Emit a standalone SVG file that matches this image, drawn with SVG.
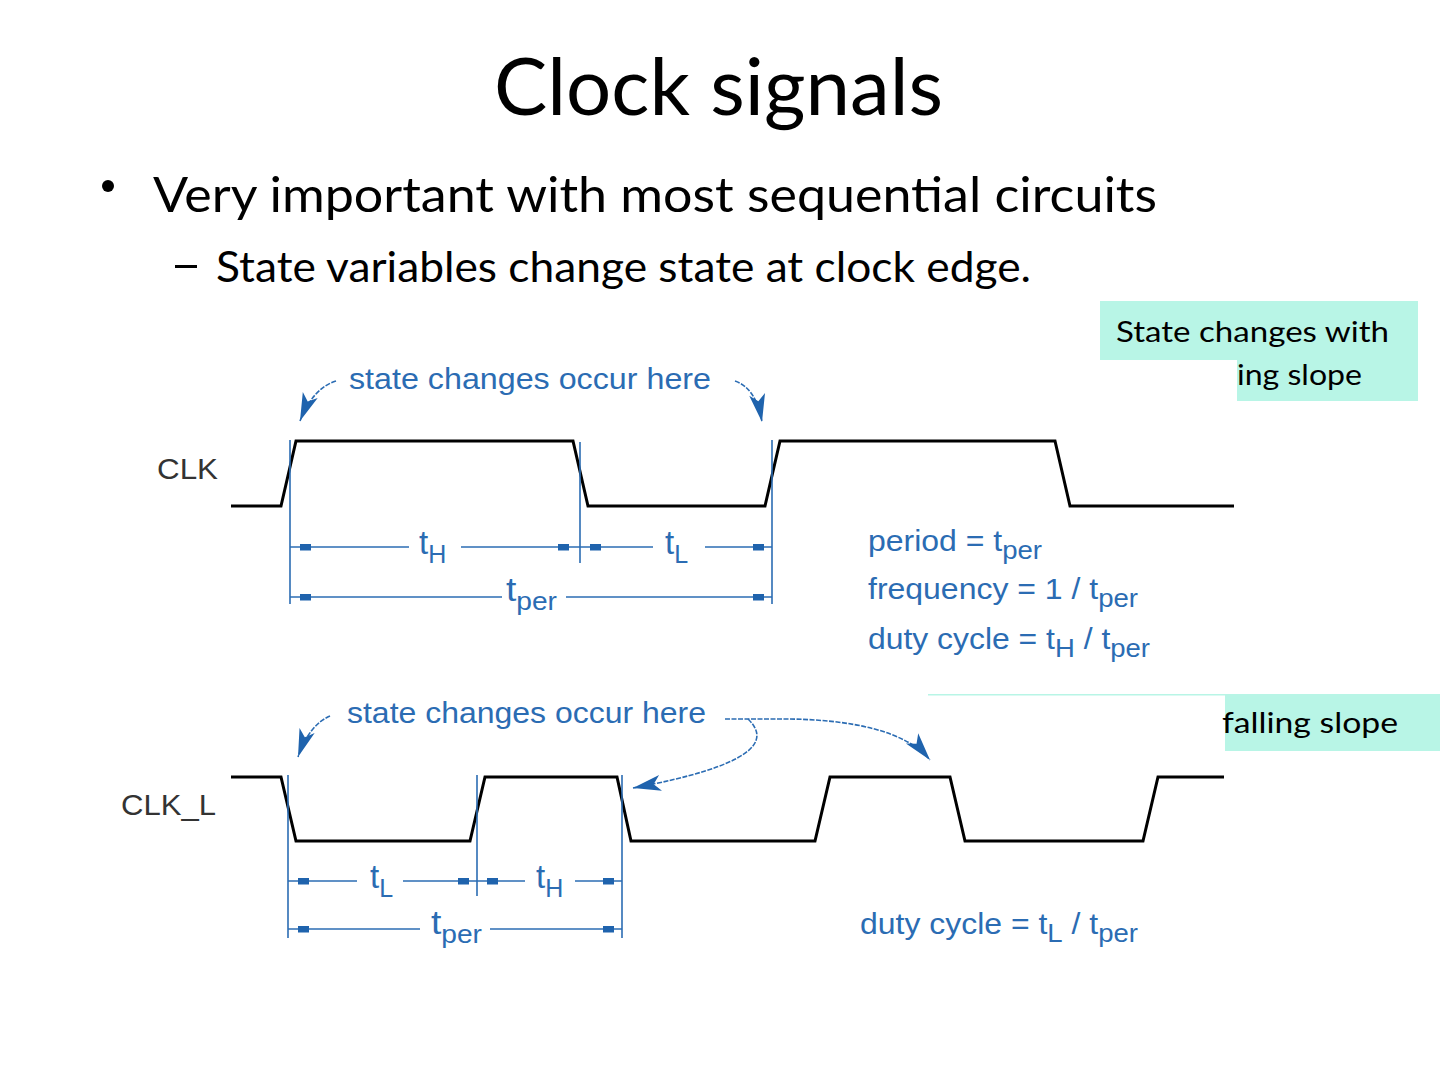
<svg xmlns="http://www.w3.org/2000/svg" width="1440" height="1080" viewBox="0 0 1440 1080">
<style>
.slide{font-family:Lato,"Open Sans","Liberation Sans",sans-serif;fill:#000}
.note{font-family:Lato,"Open Sans","Liberation Sans",sans-serif;fill:#000;font-size:29px}
.lbl{font-family:"Liberation Sans",Arial,sans-serif;fill:#333;font-size:30px}
.blue{font-family:"Liberation Sans",Arial,sans-serif;fill:#2b6cb3;font-size:29px}
.big{font-size:33px}
.sub{font-size:25px}
.wave{fill:none;stroke:#000;stroke-width:3;stroke-linejoin:miter}
.ext{stroke:#2b6cb3;stroke-width:1.6}
.dim{stroke:#2b6cb3;stroke-width:1.6}
.tick{fill:#1f63ad}
.curve{fill:none;stroke:#2b6cb3;stroke-width:1.6;stroke-dasharray:5 1.5}
</style>
<defs>
<marker id="ah" markerUnits="userSpaceOnUse" viewBox="-30 -9 32 18" refX="0" refY="0" markerWidth="32" markerHeight="18" orient="auto">
<path d="M0,0 L-28,-8 L-21,0 L-28,8 Z" fill="#1f63ad"/>
</marker>
</defs>
<rect width="1440" height="1080" fill="#fff"/>

<g id="title"><text class="slide" x="494" y="115" font-size="80" textLength="449" lengthAdjust="spacingAndGlyphs">Clock signals</text></g>
<g id="bullet1">
<circle cx="108" cy="186" r="6" fill="#000"/>
<text class="slide" x="153" y="212" font-size="48" textLength="1004" lengthAdjust="spacingAndGlyphs">Very important with most sequential circuits</text>
</g>
<g id="bullet2">
<rect x="175" y="265" width="22" height="3" fill="#000"/>
<text class="slide" x="216" y="282" font-size="42" textLength="815" lengthAdjust="spacingAndGlyphs">State variables change state at clock edge.</text>
</g>

<g id="note1">
<path d="M1100,301 H1418 V401 H1237 V360 H1100 Z" fill="#b8f5e6"/>
<text class="note" x="1116" y="342" textLength="273" lengthAdjust="spacingAndGlyphs">State changes with</text>
<text class="note" x="1237" y="385" textLength="125" lengthAdjust="spacingAndGlyphs">ing slope</text>
</g>
<g id="note2">
<path d="M928,694 H1440 V751 H1225 V695.5 H928 Z" fill="#b8f5e6"/>
<text class="note" x="1222" y="733" textLength="176" lengthAdjust="spacingAndGlyphs">falling slope</text>
</g>

<g id="clk">
<text class="lbl" x="157" y="479" textLength="61" lengthAdjust="spacingAndGlyphs">CLK</text>
<path class="wave" d="M231,506 H281 L296,441 H573 L588,506 H765 L780,441 H1055 L1070,506 H1234"/>
</g>
<g id="clk-dims">
<line class="ext" x1="290" y1="440" x2="290" y2="604"/>
<line class="ext" x1="580" y1="442" x2="580" y2="563"/>
<line class="ext" x1="772" y1="440" x2="772" y2="604"/>
<line class="dim" x1="290" y1="547" x2="409" y2="547"/>
<line class="dim" x1="461" y1="547" x2="580" y2="547"/>
<line class="dim" x1="580" y1="547" x2="653" y2="547"/>
<line class="dim" x1="705" y1="547" x2="772" y2="547"/>
<line class="dim" x1="290" y1="597" x2="502" y2="597"/>
<line class="dim" x1="566" y1="597" x2="772" y2="597"/>
<rect class="tick" x="300" y="544" width="11" height="6.5"/>
<rect class="tick" x="558" y="544" width="11" height="6.5"/>
<rect class="tick" x="590" y="544" width="11" height="6.5"/>
<rect class="tick" x="753" y="544" width="11" height="6.5"/>
<rect class="tick" x="300" y="594" width="11" height="6.5"/>
<rect class="tick" x="753" y="594" width="11" height="6.5"/>
<text class="blue big" x="419" y="554">t<tspan class="sub" dy="9">H</tspan></text>
<text class="blue big" x="665" y="554">t<tspan class="sub" dy="9">L</tspan></text>
<text class="blue big" x="506" y="601" textLength="51" lengthAdjust="spacingAndGlyphs">t<tspan class="sub" dy="9">per</tspan></text>
</g>
<g id="formulas">
<text class="blue" x="868" y="551" textLength="174" lengthAdjust="spacingAndGlyphs">period = t<tspan class="sub" dy="8">per</tspan></text>
<text class="blue" x="868" y="599" textLength="270" lengthAdjust="spacingAndGlyphs">frequency = 1 / t<tspan class="sub" dy="8">per</tspan></text>
<text class="blue" x="868" y="649" textLength="282" lengthAdjust="spacingAndGlyphs">duty cycle = t<tspan class="sub" dy="8">H</tspan><tspan dy="-8"> / t</tspan><tspan class="sub" dy="8">per</tspan></text>
</g>
<g id="note-top">
<text class="blue" x="349" y="389" textLength="362" lengthAdjust="spacingAndGlyphs">state changes occur here</text>
</g>

<g id="clkl">
<text class="lbl" x="121" y="815" textLength="95" lengthAdjust="spacingAndGlyphs">CLK_L</text>
<path class="wave" d="M231,777 H281 L296,841 H470 L485,777 H617 L631,841 H815 L830,777 H950 L965,841 H1143 L1158,777 H1224"/>
</g>
<g id="clkl-dims">
<line class="ext" x1="288" y1="775" x2="288" y2="938"/>
<line class="ext" x1="477" y1="775" x2="477" y2="896"/>
<line class="ext" x1="622" y1="775" x2="622" y2="938"/>
<line class="dim" x1="288" y1="881" x2="357" y2="881"/>
<line class="dim" x1="403" y1="881" x2="477" y2="881"/>
<line class="dim" x1="477" y1="881" x2="525" y2="881"/>
<line class="dim" x1="575" y1="881" x2="622" y2="881"/>
<line class="dim" x1="288" y1="929" x2="420" y2="929"/>
<line class="dim" x1="490" y1="929" x2="622" y2="929"/>
<rect class="tick" x="298" y="878" width="11" height="6.5"/>
<rect class="tick" x="458" y="878" width="11" height="6.5"/>
<rect class="tick" x="487" y="878" width="11" height="6.5"/>
<rect class="tick" x="603" y="878" width="11" height="6.5"/>
<rect class="tick" x="298" y="926" width="11" height="6.5"/>
<rect class="tick" x="603" y="926" width="11" height="6.5"/>
<text class="blue big" x="370" y="888">t<tspan class="sub" dy="9">L</tspan></text>
<text class="blue big" x="536" y="888">t<tspan class="sub" dy="9">H</tspan></text>
<text class="blue big" x="431" y="934" textLength="51" lengthAdjust="spacingAndGlyphs">t<tspan class="sub" dy="9">per</tspan></text>
<text class="blue" x="860" y="934" textLength="278" lengthAdjust="spacingAndGlyphs">duty cycle = t<tspan class="sub" dy="8">L</tspan><tspan dy="-8"> / t</tspan><tspan class="sub" dy="8">per</tspan></text>
</g>
<g id="note-bottom">
<text class="blue" x="347" y="723" textLength="359" lengthAdjust="spacingAndGlyphs">state changes occur here</text>
</g>

<g id="connectors">
<path class="curve" d="M336,381 Q313,388 300,421" marker-end="url(#ah)"/>
<path class="curve" d="M735,381 Q756,388 762,422" marker-end="url(#ah)"/>
<path class="curve" d="M330,716 Q309,725 298,757" marker-end="url(#ah)"/>
<path class="curve" d="M725,719 H790 C850,720 905,730 930,760" marker-end="url(#ah)"/>
<path class="curve" d="M748,719 C772,742 752,766 633,788" marker-end="url(#ah)"/>
</g>
</svg>
